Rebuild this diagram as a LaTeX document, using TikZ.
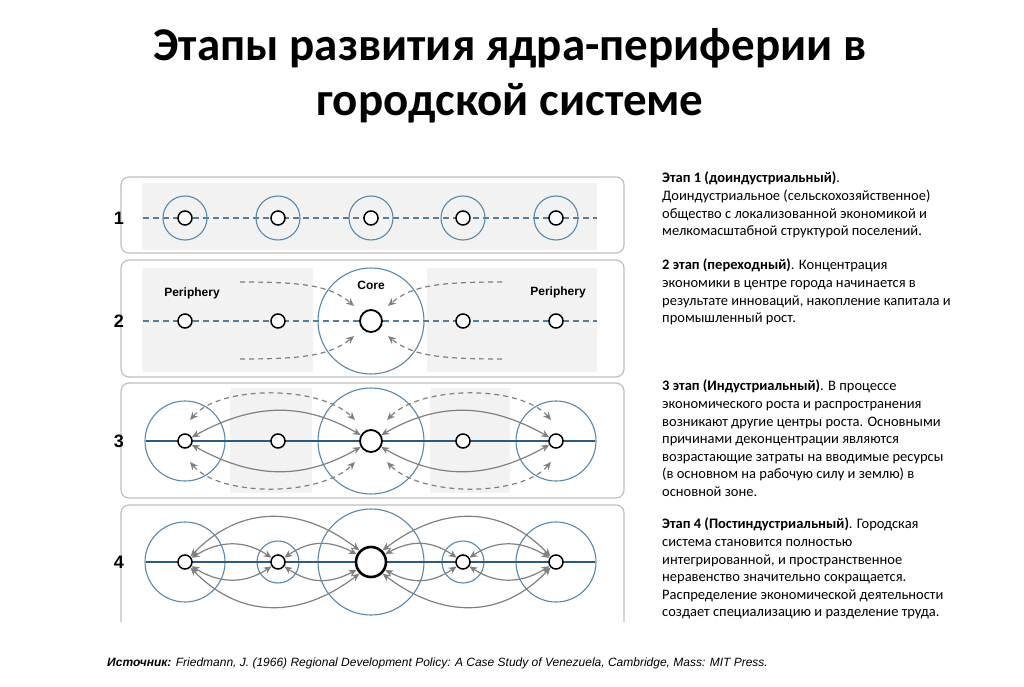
\documentclass[tikz,border=0pt]{standalone}
\usepackage{fontspec}
\setmainfont{Carlito}
\newfontfamily\hfont{Liberation Sans}
\usetikzlibrary{arrows.meta}
\definecolor{cblue}{HTML}{5B87A8}
\definecolor{lblue}{HTML}{2E5A7E}
\definecolor{gfill}{HTML}{F2F2F2}
\definecolor{arr}{HTML}{808080}
\tikzset{
 panel/.style={draw=black!25,line width=1.2pt,rounded corners=8pt,fill=white},
 gbox/.style={fill=gfill,draw=none},
 town/.style={circle,draw=black,line width=1.5pt,fill=white,minimum size=14pt,inner sep=0pt},
 core/.style={circle,draw=black,line width=1.8pt,fill=white,minimum size=22pt,inner sep=0pt},
 zone/.style={draw=cblue,line width=1.1pt},
 flow/.style={draw=arr,line width=1.2pt,-{Stealth[length=8pt,width=7pt]}},
 dflow/.style={flow,dash pattern=on 5pt off 4pt},
 both/.style={draw=arr,line width=1.2pt,{Stealth[length=8pt,width=7pt]}-{Stealth[length=8pt,width=7pt]}},
 dboth/.style={both,dash pattern=on 5pt off 4pt},
 num/.style={font=\hfont\bfseries\fontsize{18}{18}\selectfont},
 lab/.style={font=\hfont\bfseries\fontsize{12}{12}\selectfont},
 desc/.style={anchor=north west,align=left,inner sep=0pt,font=\fontsize{14.5}{17.6}\selectfont},
}
\begin{document}
\begin{tikzpicture}[x=1pt,y=-1pt]
\useasboundingbox[fill=white] (0,0) rectangle (1024,687);
\node[font=\bfseries\fontsize{47}{55}\selectfont,align=center] (title) at (510,76) {Этапы развития ядра-периферии в\\городской системе};
% panel 1
\draw[panel] (121,177) rectangle (624,253);
\fill[gbox] (142,183) rectangle (597,250);
\node[num] (n1) at (119,218) {1};
\draw[lblue!80,line width=1.2pt,dash pattern=on 6pt off 4pt] (143,218) -- (597,218);
\foreach \x/\n in {185/a,278/b,371/c,463/d,556/e}{
 \draw[zone] (\x,218) circle (22);
 \node[town] (p1\n) at (\x,218) {};}
% panel 2
\draw[panel] (121,260) rectangle (624,377);
\fill[gbox] (142,268) rectangle (313,372);
\fill[gbox] (427,268) rectangle (597,372);
\node[num] (n2) at (119,321) {2};
\draw[zone,fill=white] (371,321) circle (53);
\draw[lblue!80,line width=1.2pt,dash pattern=on 6pt off 4pt] (143,321) -- (597,321);
\foreach \x/\n in {185/a,278/b,463/d,556/e}{\node[town] (p2\n) at (\x,321) {};}
\node[core] (p2c) at (371,321) {};
\node[lab] (per1) at (192,293) {Periphery};
\node[lab] (per2) at (558,292) {Periphery};
\node[lab] (cl) at (371,285) {Core};
\coordinate (s1) at (240,282); \coordinate (s2) at (240,359);
\coordinate (s3) at (502,282); \coordinate (s4) at (502,359);
\draw[dflow] (s1) .. controls (300,282) and (330,285) .. (354,306);
\draw[dflow] (s2) .. controls (300,359) and (330,356) .. (354,336);
\draw[dflow] (s3) .. controls (442,282) and (412,285) .. (388,306);
\draw[dflow] (s4) .. controls (442,359) and (412,356) .. (388,336);
% panel 3
\draw[panel] (121,383) rectangle (624,498);
\fill[gbox] (230,388) rectangle (312,493);
\fill[gbox] (430,388) rectangle (510,493);
\node[num] (n3) at (119,441) {3};
\draw[zone] (185,441) circle (40);
\draw[zone] (371,441) circle (53);
\draw[zone] (556,441) circle (40);
\draw[lblue,line width=1.2pt] (146,441) -- (595,441);
\foreach \x/\n in {185/a,278/b,463/d,556/e}{\node[town] (p3\n) at (\x,441) {};}
\node[core] (p3c) at (371,441) {};
\draw[both] (p3a) .. controls (250,405) and (300,400) .. (p3c);
\draw[both] (p3a) .. controls (250,477) and (300,482) .. (p3c);
\draw[both] (p3e) .. controls (492,405) and (442,400) .. (p3c);
\draw[both] (p3e) .. controls (492,477) and (442,482) .. (p3c);
\draw[dboth] (190,420) .. controls (220,385) and (320,385) .. (355,420);
\draw[dboth] (190,462) .. controls (220,497) and (320,497) .. (355,462);
\draw[dboth] (551,420) .. controls (521,385) and (421,385) .. (387,420);
\draw[dboth] (551,462) .. controls (521,497) and (421,497) .. (387,462);
% panel 4
\draw[panel] (121,505) rectangle (624,635);
\node[num] (n4) at (119,562) {4};
\draw[zone] (185,562) circle (40);
\draw[zone] (278,562) circle (21);
\draw[zone] (371,562) circle (53);
\draw[zone] (463,562) circle (21);
\draw[zone] (556,562) circle (40);
\draw[lblue,line width=2.4pt] (146,562) -- (595,562);
\foreach \x/\n in {185/a,278/b,463/d,556/e}{\node[town] (p4\n) at (\x,562) {};}
\node[core,minimum size=30pt,line width=2.6pt] (p4c) at (371,562) {};
\draw[both] (p4a.north east) .. controls (240,505) and (300,505) .. (p4c.north west);
\draw[both] (p4a.south east) .. controls (240,619) and (300,619) .. (p4c.south west);
\draw[both] (p4e.north west) .. controls (502,505) and (442,505) .. (p4c.north east);
\draw[both] (p4e.south west) .. controls (502,619) and (442,619) .. (p4c.south east);
\draw[both] (p4a) .. controls (220,540) and (245,540) .. (p4b);
\draw[both] (p4a) .. controls (220,584) and (245,584) .. (p4b);
\draw[both] (p4b) .. controls (310,540) and (330,540) .. (p4c);
\draw[both] (p4b) .. controls (310,584) and (330,584) .. (p4c);
\draw[both] (p4e) .. controls (521,540) and (496,540) .. (p4d);
\draw[both] (p4e) .. controls (521,584) and (496,584) .. (p4d);
\draw[both] (p4d) .. controls (431,540) and (411,540) .. (p4c);
\draw[both] (p4d) .. controls (431,584) and (411,584) .. (p4c);
\fill[white] (100,622) rectangle (640,645);
% texts
\node[desc] (t1) at (662,172) {\textbf{Этап 1 (доиндустриальный)}.\\Доиндустриальное (сельскохозяйственное)\\общество с локализованной экономикой и\\мелкомасштабной структурой поселений.};
\node[desc] (t2) at (662,259) {\textbf{2 этап (переходный)}. Концентрация\\экономики в центре города начинается в\\результате инноваций, накопление капитала и\\промышленный рост.};
\node[desc] (t3) at (662,380) {\textbf{3 этап (Индустриальный)}. В процессе\\экономического роста и распространения\\возникают другие центры роста. Основными\\причинами деконцентрации являются\\возрастающие затраты на вводимые ресурсы\\(в основном на рабочую силу и землю) в\\основной зоне.};
\node[desc] (t4) at (662,518) {\textbf{Этап 4 (Постиндустриальный)}. Городская\\система становится полностью\\интегрированной, и пространственное\\неравенство значительно сокращается.\\Распределение экономической деятельности\\создает специализацию и разделение труда.};
\node[anchor=west,font=\hfont\itshape\fontsize{12}{12}\selectfont,inner sep=0pt] (src) at (107,663) {\textbf{Источник:} Friedmann, J. (1966) Regional Development Policy: A Case Study of Venezuela, Cambridge, Mass: MIT Press.};
\end{tikzpicture}
\end{document}
